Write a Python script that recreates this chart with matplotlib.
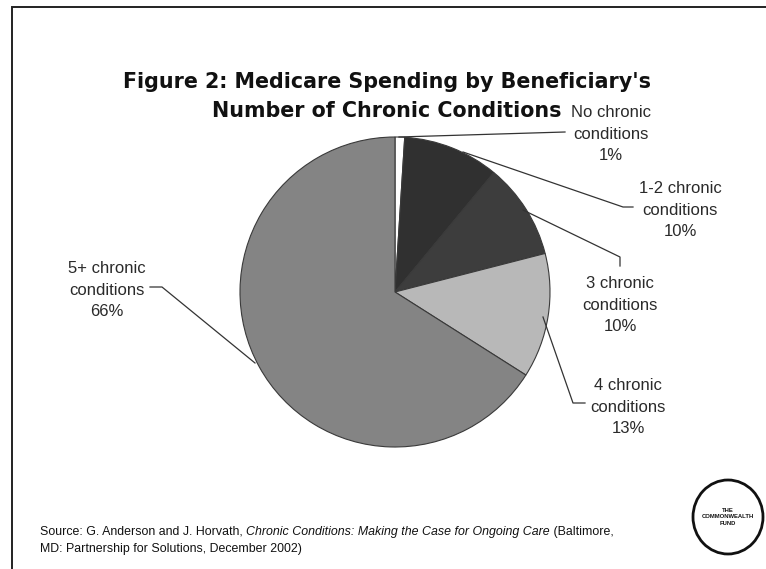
import matplotlib
matplotlib.use("Agg")
import matplotlib.pyplot as plt
from matplotlib.patches import Ellipse

# ---- data ----
categories = ["No chronic\nconditions", "1-2 chronic\nconditions", "3 chronic\nconditions",
              "4 chronic\nconditions", "5+ chronic\nconditions"]
shares = [1, 10, 10, 13, 66]
pct_labels = ["1%", "10%", "10%", "13%", "66%"]
slice_colors = ["#ffffff", "#303030", "#3d3d3d", "#b8b8b8", "#848484"]

title_lines = ["Figure 2: Medicare Spending by Beneficiary's", "Number of Chronic Conditions"]

W, H = 766, 569
fig = plt.figure(figsize=(W / 100, H / 100), dpi=100)
ax = fig.add_axes([0, 0, 1, 1])


def Y(y):
    return H - y


FONT = ["Liberation Sans", "DejaVu Sans"]

# pie
cx, cy, r = 395, 292, 155
ax.pie(shares, colors=slice_colors, startangle=90, counterclock=False,
       center=(cx, Y(cy)), radius=r, frame=True,
       wedgeprops=dict(edgecolor="#3a3a3a", linewidth=0.8))
ax.set_xlim(0, W)
ax.set_ylim(0, H)
ax.set_aspect("equal")
ax.axis("off")

# border (top and left)
ax.plot([12, 12, W], [0, Y(7), Y(7)], color="#222222", lw=1.4, solid_joinstyle="miter")

# title (two separate lines)
for ty, line in zip([82, 111], title_lines):
    ax.text(387, Y(ty), line, ha="center", va="center", fontsize=14.9, fontweight="bold",
            color="#111111", family=["DejaVu Sans"])

# labels
label_pos = [(611, 134), (680, 210), (620, 305), (628, 407), (107, 290)]
for (x, y), cat, p in zip(label_pos, categories, pct_labels):
    ax.text(x, Y(y), cat + "\n" + p, ha="center", va="center", fontsize=12.0,
            color="#2a2a2a", family=FONT, linespacing=1.55)

# leader lines
leaders = [
    [(399, 137), (565, 132)],
    [(463, 152), (623, 207), (633, 207)],
    [(523, 210), (620, 257), (620, 266)],
    [(543, 317), (573, 403), (585, 403)],
    [(150, 287), (162, 287), (255, 363)],
]
for pts in leaders:
    xs = [p[0] for p in pts]
    ys = [Y(p[1]) for p in pts]
    ax.plot(xs, ys, color="#333333", lw=0.9)

# source with italic part
fig.canvas.draw()
renderer = fig.canvas.get_renderer()
parts = [("Source: G. Anderson and J. Horvath, ", "normal"),
         ("Chronic Conditions: Making the Case for Ongoing Care", "italic"),
         (" (Baltimore,", "normal")]
x0 = 40
sy = 532
for txt, style in parts:
    t = fig.text(x0 / W, Y(sy) / H, txt, ha="left", va="center", fontsize=8.9,
                 style=style, color="#111111", family=FONT)
    bb = t.get_window_extent(renderer)
    x0 = x0 + bb.width
fig.text(40 / W, Y(549) / H, "MD: Partnership for Solutions, December 2002)", ha="left",
         va="center", fontsize=8.9, color="#111111", family=FONT)

# logo
ax.add_patch(Ellipse((728, Y(517)), 70, 74, fill=False, edgecolor="#111111", lw=2.0))
ax.text(728, Y(517), "THE\nCOMMONWEALTH\nFUND", ha="center", va="center", fontsize=4.2,
        fontweight="bold", color="#111111", family=FONT, linespacing=1.3)

fig.savefig("out.png", dpi=100)
